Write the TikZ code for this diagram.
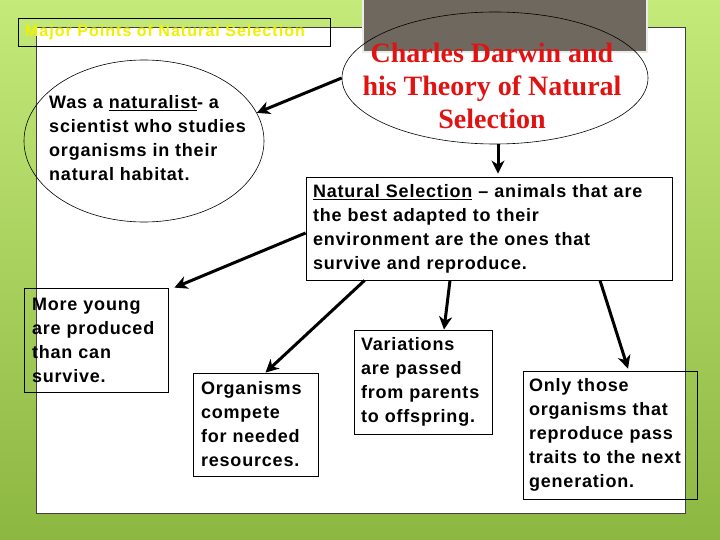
\documentclass[tikz,border=0pt]{standalone}
\usepackage{fontspec}
\setmainfont{Liberation Sans}
\newfontfamily\bodyfam[LetterSpace=4.5]{Liberation Sans}
\newfontfamily\majorfam[LetterSpace=6.7]{Liberation Sans}
\newfontfamily\titlefont{Liberation Serif}
\usetikzlibrary{shapes.geometric,arrows.meta}
\definecolor{bgtop}{HTML}{C4EA7A}
\definecolor{bgbot}{HTML}{8CB741}
\definecolor{darwinred}{HTML}{E01212}
\definecolor{graybox}{HTML}{6F685E}
\definecolor{titleyellow}{HTML}{F0F000}
\newcommand{\oneline}[1]{\mbox{#1}}
\tikzset{
  bodyfont/.style={font=\bodyfam\fontsize{18}{24}\selectfont\bfseries},
  textbox/.style={draw=black, line width=0.8pt, rectangle, align=left,
    inner xsep=8pt, inner ysep=0pt, bodyfont},
  oval/.style={draw=black, line width=0.6pt, ellipse, inner sep=0pt},
  arr/.style={draw=black, line width=3pt, -{Stealth[length=13pt,width=13pt,inset=4pt]}},
}
\begin{document}
\begin{tikzpicture}[x=1pt,y=-1pt]
\useasboundingbox (0,0) rectangle (720,540);
% background
\shade[top color=bgtop, bottom color=bgbot] (0,0) rectangle (720,540);
% white panel
\fill[white] (36,27) rectangle (685,513);
\draw[black!75, line width=0.8pt] (36,27) rectangle (685,513);
% title box
\node[draw=black, line width=0.8pt, rectangle, minimum width=312pt, minimum height=28pt,
  text width=298pt, align=left, inner xsep=7pt, inner ysep=0pt,
  font=\majorfam\fontsize{16}{18}\selectfont\bfseries, text=titleyellow] (major) at (174,32)
  {\oneline{Major Points of Natural Selection}};
% gray box at top
\node[fill=graybox, draw=white!92!black, line width=2pt, rectangle, minimum width=284pt,
  minimum height=60pt, inner sep=0pt] (gray) at (505,22) {};
% Darwin ellipse
\node[oval, minimum width=306pt, minimum height=132pt] (darwin) at (495,78) {};
\node[align=center, inner sep=0pt,
  font=\fontsize{28}{33}\selectfont\titlefont\bfseries, text=darwinred] (darwint) at (492,86)
  {Charles Darwin and\\his Theory of Natural\\Selection};
% naturalist ellipse
\node[oval, minimum width=240pt, minimum height=162pt] (nat) at (144,141) {};
\node[bodyfont, align=left, inner sep=0pt, anchor=west] (natt) at (49,138)
  {Was a \underline{naturalist}- a\\scientist who studies\\organisms in their\\natural habitat.};
% boxes
\node[textbox, minimum width=366pt, minimum height=103pt, text width=352pt, inner xsep=7pt] (ns) at (489,228.5)
  {\oneline{\underline{Natural Selection} – animals that are}\\\oneline{the best adapted to their}\\\oneline{environment are the ones that}\\\oneline{survive and reproduce.}};
\node[textbox, minimum width=144pt, minimum height=104pt, text width=128pt] (more) at (96,340)
  {\oneline{More young}\\\oneline{are produced}\\\oneline{than can}\\\oneline{survive.}};
\node[textbox, minimum width=125pt, minimum height=103pt, text width=109pt] (org) at (255.5,424.5)
  {\oneline{Organisms}\\\oneline{compete}\\\oneline{for needed}\\\oneline{resources.}};
\node[textbox, minimum width=138pt, minimum height=104pt, text width=124pt, inner xsep=7pt] (var) at (423,382)
  {\oneline{Variations}\\\oneline{are passed}\\\oneline{from parents}\\\oneline{to offspring.}};
\node[textbox, minimum width=174pt, minimum height=128pt, text width=162pt, inner xsep=6pt] (only) at (610,435)
  {\oneline{Only those}\\\oneline{organisms that}\\\oneline{reproduce pass}\\\oneline{traits to the next}\\\oneline{generation.}};
% arrows
\draw[arr] (darwin.west) -- (nat.14);
\draw[arr] ([xshift=3pt]darwin.south) -- ([xshift=9pt,yshift=3pt]ns.north);
\draw[arr] ([yshift=-4.5pt]ns.west) -- ([xshift=6pt]more.north east);
\draw[arr] ([xshift=59pt]ns.south west) -- ([xshift=10pt]org.north);
\draw[arr] ([xshift=-39pt]ns.south) -- ([xshift=21pt]var.north);
\draw[arr] ([xshift=111pt]ns.south) -- ([xshift=18pt,yshift=2pt]only.north);
\end{tikzpicture}
\end{document}
